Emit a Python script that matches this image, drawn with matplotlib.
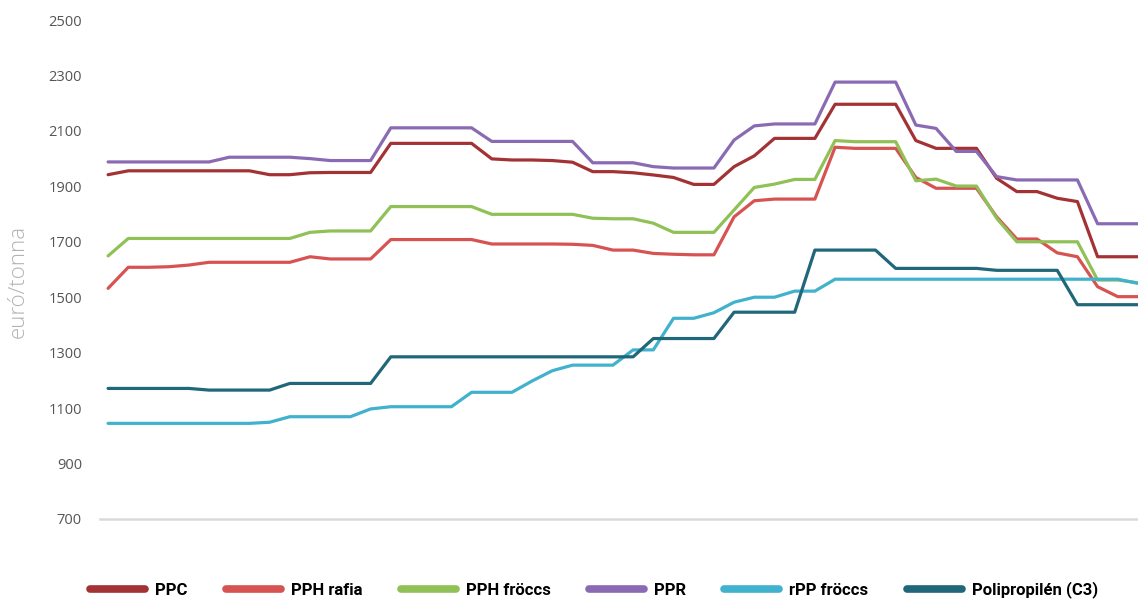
import matplotlib
matplotlib.use("Agg")
import matplotlib.pyplot as plt
import numpy as np

# weekly price quotes, euró/tonna
ppc = [1942, 1956, 1956, 1956, 1956, 1956, 1956, 1956, 1942, 1942,
       1949, 1950, 1950, 1950, 2055, 2055, 2055, 2055, 2055, 1999,
       1995, 1995, 1993, 1987, 1953, 1953, 1949, 1941, 1932, 1907,
       1907, 1971, 2010, 2073, 2073, 2073, 2196, 2196, 2196, 2196,
       2065, 2037, 2037, 2037, 1929, 1881, 1881, 1857, 1845, 1646,
       1646, 1646]
pph_rafia = [1532, 1608, 1608, 1610, 1616, 1626, 1626, 1626, 1626, 1626,
             1646, 1638, 1638, 1638, 1708, 1708, 1708, 1708, 1708, 1692,
             1692, 1692, 1692, 1691, 1687, 1670, 1670, 1658, 1655, 1653,
             1653, 1790, 1848, 1854, 1854, 1854, 2041, 2037, 2037, 2037,
             1932, 1893, 1893, 1893, 1790, 1710, 1710, 1660, 1646, 1538,
             1502, 1502]
pph_froccs = [1649, 1712, 1712, 1712, 1712, 1712, 1712, 1712, 1712, 1712,
              1734, 1739, 1739, 1739, 1827, 1827, 1827, 1827, 1827, 1799,
              1799, 1799, 1799, 1799, 1785, 1783, 1783, 1767, 1734, 1734,
              1734, 1815, 1896, 1908, 1925, 1925, 2065, 2061, 2061, 2061,
              1920, 1926, 1901, 1901, 1785, 1700, 1700, 1700, 1700, 1562,
              1562, 1552]
ppr = [1988, 1988, 1988, 1988, 1988, 1988, 2005, 2005, 2005, 2005,
       2000, 1993, 1993, 1993, 2111, 2111, 2111, 2111, 2111, 2062,
       2062, 2062, 2062, 2062, 1985, 1985, 1985, 1971, 1966, 1966,
       1966, 2067, 2118, 2125, 2125, 2125, 2276, 2276, 2276, 2276,
       2121, 2109, 2026, 2026, 1935, 1923, 1923, 1923, 1923, 1765,
       1765, 1765]
rpp_froccs = [1045, 1045, 1045, 1045, 1045, 1045, 1045, 1045, 1049, 1069,
              1069, 1069, 1069, 1097, 1105, 1105, 1105, 1105, 1157, 1157,
              1157, 1198, 1235, 1255, 1255, 1255, 1310, 1310, 1424, 1424,
              1444, 1482, 1500, 1500, 1522, 1522, 1565, 1565, 1565, 1565,
              1565, 1565, 1565, 1565, 1565, 1565, 1565, 1565, 1565, 1565,
              1565, 1550]
c3 = [1171, 1171, 1171, 1171, 1171, 1165, 1165, 1165, 1165, 1189,
      1189, 1189, 1189, 1189, 1285, 1285, 1285, 1285, 1285, 1285,
      1285, 1285, 1285, 1285, 1285, 1285, 1285, 1351, 1351, 1351,
      1351, 1446, 1446, 1446, 1446, 1670, 1670, 1670, 1670, 1604,
      1604, 1604, 1604, 1604, 1597, 1597, 1597, 1597, 1473, 1473,
      1473, 1473]

names = ['PPC', 'PPH rafia', 'PPH fröccs', 'PPR', 'rPP fröccs', 'Polipropilén (C3)']
colors = ['#a33234', '#d65352', '#8fc156', '#8a6bb3', '#41b2cd', '#21677a']
series = [ppc, pph_rafia, pph_froccs, ppr, rpp_froccs, c3]
yticks = [700, 900, 1100, 1300, 1500, 1700, 1900, 2100, 2300, 2500]

fig = plt.figure(figsize=(11.38, 5.99), dpi=100)
ax = fig.add_axes([100 / 1138, 80 / 599, 1038 / 1138, 499 / 599])

x = np.arange(len(ppc))
for vals, name, col in zip(series, names, colors):
    ax.plot(x, vals, color=col, lw=2.3, label=name,
            solid_joinstyle='round', solid_capstyle='round')

ax.set_xlim(-0.4, 51)
ax.set_ylim(700, 2500)
ax.set_yticks(yticks)
ax.set_yticklabels([str(v) for v in yticks], family='Open Sans',
                   fontsize=10.5, color='#555555')
ax.set_xticks([])
ax.tick_params(axis='y', length=0, pad=13)
for s in ['top', 'right', 'left']:
    ax.spines[s].set_visible(False)
ax.spines['bottom'].set_color('#dadada')
ax.spines['bottom'].set_linewidth(1.8)

fig.text(0.016, 0.53, 'euró/tonna', rotation=90, ha='center', va='center',
         family='Open Sans', fontweight='light', fontsize=16, color='#b3b3b3')

leg = fig.legend(loc='center', bbox_to_anchor=(0.522, 0.015), ncol=6,
                 frameon=False, handlelength=3.3, columnspacing=2.3,
                 handletextpad=0.6,
                 prop={'family': 'Roboto', 'weight': 'bold', 'size': 12})
for ln in leg.get_lines():
    ln.set_linewidth(5.5)
    ln.set_solid_capstyle('round')

fig.savefig('out.png', dpi=100)
